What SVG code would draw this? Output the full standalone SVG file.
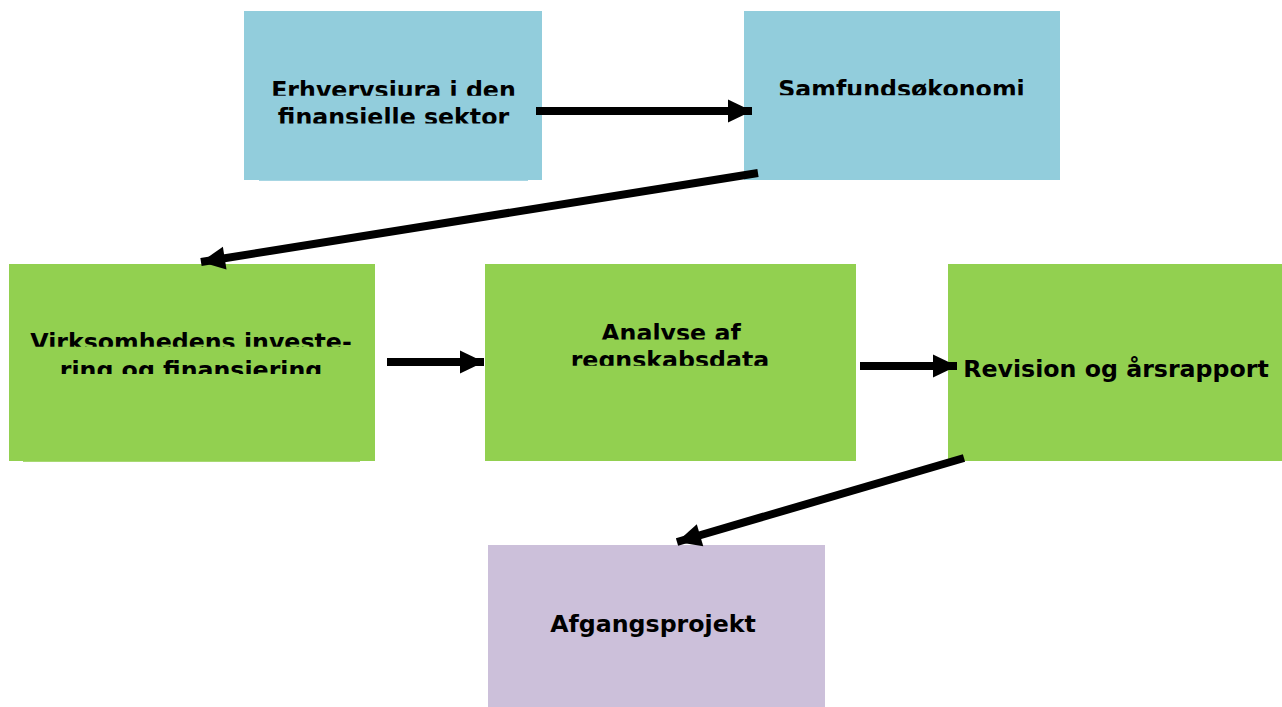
<svg xmlns="http://www.w3.org/2000/svg" width="1282" height="707" viewBox="0 0 1282 707">
<style>
.t{font-family:"DejaVu Sans","Verdana",sans-serif;font-weight:bold;font-size:23.7px;fill:#000;text-anchor:middle}
.blue{fill:#92CDDC}.green{fill:#92D050}.purple{fill:#CCC0DA}
.c{stroke:#000;stroke-width:8;fill:none;marker-end:url(#ah)}
</style>
<defs>
<marker id="ah" markerUnits="userSpaceOnUse" markerWidth="26" markerHeight="24" refX="24" refY="11.5" orient="auto" overflow="visible">
<path d="M0,0 L24,11.5 L0,23 z" fill="#000"/>
</marker>
<clipPath id="c1"><rect x="0" y="0" width="1282" height="95.8"/></clipPath>
<clipPath id="c2"><rect x="0" y="100" width="1282" height="23.4"/></clipPath>
<clipPath id="c3"><rect x="0" y="0" width="1282" height="95.2"/></clipPath>
<clipPath id="c4"><rect x="0" y="320" width="1282" height="26.8"/></clipPath>
<clipPath id="c5"><rect x="0" y="352" width="1282" height="22"/></clipPath>
<clipPath id="c6"><rect x="0" y="310" width="1282" height="29.4"/></clipPath>
<clipPath id="c7"><rect x="0" y="342" width="1282" height="23.8"/></clipPath>
</defs>
<g id="node-erhvervsjura">
<rect class="blue" x="244" y="11" width="298" height="169"/>
<rect class="blue" x="259" y="179" width="269" height="1.8"/>
<text class="t" x="393.5" y="97.5" clip-path="url(#c1)">Erhvervsjura i den</text>
<text class="t" x="393.5" y="125" clip-path="url(#c2)">finansielle sektor</text>
</g>
<g id="node-samfundsokonomi">
<rect class="blue" x="744" y="11" width="316" height="169"/>
<text class="t" x="901.5" y="97.3" clip-path="url(#c3)">Samfundsøkonomi</text>
</g>
<g id="node-virksomhedens">
<rect class="green" x="9" y="264" width="366" height="197"/>
<rect class="green" x="23" y="460" width="337" height="1.8"/>
<text class="t" x="191" y="350" clip-path="url(#c4)">Virksomhedens investe-</text>
<text class="t" x="191" y="377.5" clip-path="url(#c5)">ring og finansiering</text>
</g>
<g id="node-analyse">
<rect class="green" x="485" y="264" width="371" height="197"/>
<text class="t" x="671" y="340.5" clip-path="url(#c6)">Analyse af</text>
<text class="t" x="670" y="368" clip-path="url(#c7)">regnskabsdata</text>
</g>
<g id="node-revision">
<rect class="green" x="948" y="264" width="334" height="197"/>
<text class="t" x="1116" y="377">Revision og årsrapport</text>
</g>
<g id="node-afgangsprojekt">
<rect class="purple" x="488" y="545" width="337" height="162"/>
<text class="t" x="653" y="631.5">Afgangsprojekt</text>
</g>
<g id="connectors">
<line class="c" x1="536" y1="111" x2="752" y2="111"/>
<line class="c" x1="758" y1="173" x2="201" y2="262"/>
<line class="c" x1="387" y1="362" x2="484" y2="362"/>
<line class="c" x1="860" y1="366" x2="957" y2="366"/>
<line class="c" x1="964" y1="458" x2="677" y2="542"/>
</g>
</svg>
